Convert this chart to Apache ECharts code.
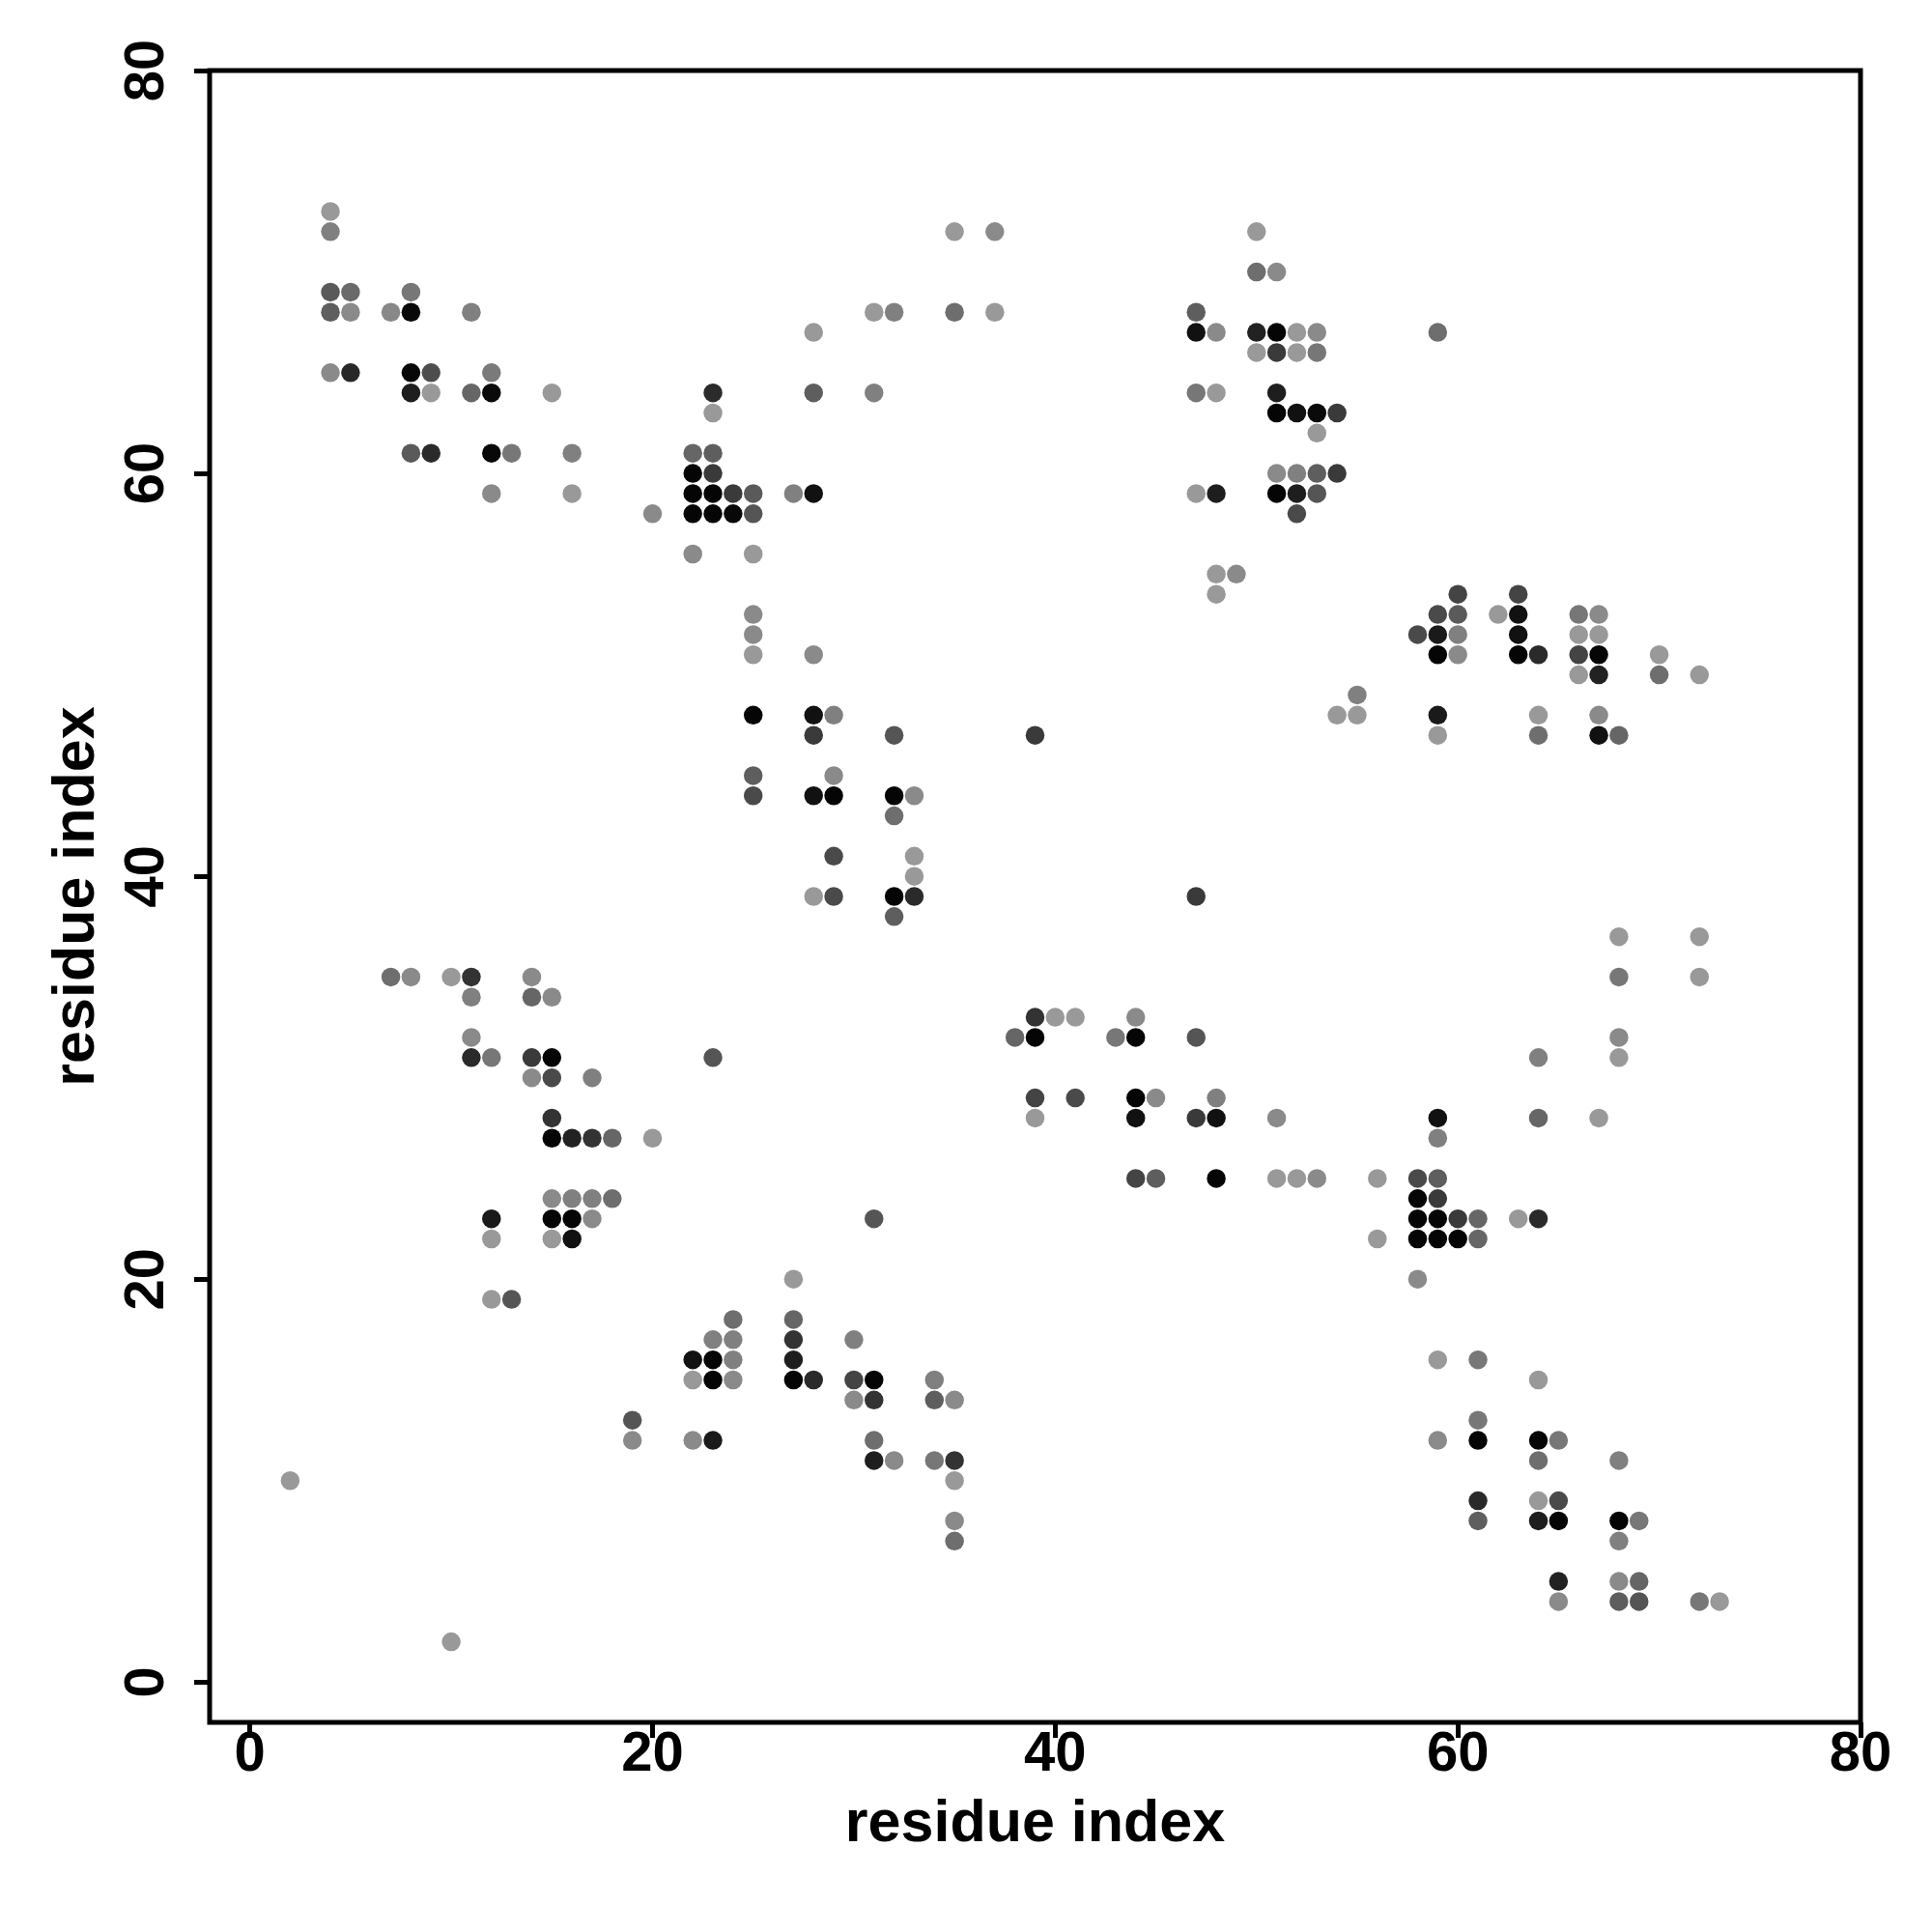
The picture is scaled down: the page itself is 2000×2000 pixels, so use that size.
<!DOCTYPE html>
<html>
<head>
<meta charset="utf-8">
<script src="https://cdn.jsdelivr.net/npm/echarts@6/dist/echarts.min.js"></script>
<style>
html,body{margin:0;padding:0;background:#fff;}
#chart{width:2000px;height:2000px;}
</style>
</head>
<body>
<div id="chart"></div>
<script>
// Each point: [residue i, residue j, grey level (0 = black ... 153 = light grey)]
const blockTopLeft = [
  [4,73,0x99],[4,72,0x80],[4,69,0x5a],[5,69,0x6a],[8,69,0x77],[4,68,0x5e],[5,68,0x8a],[7,68,0x88],[8,68,0x08],[11,68,0x80],
  [4,65,0x8a],[5,65,0x28],[8,65,0x08],[9,65,0x4d],[12,65,0x7a],
  [8,64,0x1e],[9,64,0x99],[11,64,0x66],[12,64,0x0a],[15,64,0x99],[23,64,0x2b],[23,63,0x99],
  [8,61,0x5a],[9,61,0x2a],[12,61,0x08],[13,61,0x77],[16,61,0x80],[22,61,0x66],[23,61,0x5e],
  [22,60,0x05],[23,60,0x3a],
  [12,59,0x8a],[16,59,0x99],[22,59,0x05],[23,59,0x05],[24,59,0x3a],[25,59,0x5a],
  [20,58,0x8a],[22,58,0x05],[23,58,0x05],[24,58,0x08],[25,58,0x55],
  [22,56,0x8a],[25,56,0x99]
];
const blockTopRight = [
  [35,72,0x99],[37,72,0x8a],[50,72,0x99],
  [50,70,0x6e],[51,70,0x8a],
  [31,68,0x99],[32,68,0x80],[35,68,0x6e],[37,68,0x99],[47,68,0x5e],
  [28,67,0x99],[47,67,0x11],[48,67,0x8a],[50,67,0x22],[51,67,0x05],[52,67,0x99],[53,67,0x8a],[59,67,0x6e],
  [50,66,0x99],[51,66,0x3a],[52,66,0x99],[53,66,0x77],
  [28,64,0x5e],[31,64,0x80],[47,64,0x77],[48,64,0x99],[51,64,0x1e],
  [51,63,0x05],[52,63,0x11],[53,63,0x0a],[54,63,0x3a],
  [53,62,0x99],
  [51,60,0x8a],[52,60,0x80],[53,60,0x5e],[54,60,0x3a],
  [27,59,0x80],[28,59,0x11],[47,59,0x99],[48,59,0x1e],[51,59,0x05],[52,59,0x1e],[53,59,0x55],
  [52,58,0x4a]
];
const blockMiddle = [
  [25,53,0x8a],[25,52,0x8a],[25,51,0x99],[25,48,0x05],[25,45,0x5e],[25,44,0x4a],
  [48,55,0x99],[49,55,0x8a],[48,54,0x99],
  [28,51,0x8a],
  [28,48,0x11],[29,48,0x80],
  [28,47,0x3a],[32,47,0x55],[39,47,0x3a],
  [29,45,0x8a],
  [28,44,0x11],[29,44,0x05],[32,44,0x05],[33,44,0x8a],
  [32,43,0x6e],
  [29,41,0x4a],[33,41,0x99],
  [33,40,0x99],
  [28,39,0x99],[29,39,0x4a],[32,39,0x05],[33,39,0x2a],[47,39,0x3a],
  [32,38,0x5e]
];
const blockRightUpper = [
  [60,54,0x44],[63,54,0x44],
  [59,53,0x4a],[60,53,0x5a],[62,53,0x99],[63,53,0x11],[66,53,0x77],[67,53,0x8a],
  [58,52,0x4a],[59,52,0x1a],[60,52,0x80],[63,52,0x11],[66,52,0x99],[67,52,0x99],
  [59,51,0x05],[60,51,0x8a],[63,51,0x05],[64,51,0x2a],[66,51,0x44],[67,51,0x05],[70,51,0x99],
  [66,50,0x99],[67,50,0x22],[70,50,0x6e],[72,50,0x99],
  [55,49,0x80],
  [54,48,0x99],[55,48,0x99],[59,48,0x1a],[64,48,0x99],[67,48,0x8a],
  [59,47,0x99],[64,47,0x6e],[67,47,0x11],[68,47,0x66]
];
const blockLeftLower = [
  [7,35,0x6e],[8,35,0x8a],[10,35,0x99],[11,35,0x33],[14,35,0x8a],
  [11,34,0x80],[14,34,0x66],[15,34,0x8a],
  [11,32,0x8a],
  [11,31,0x2a],[12,31,0x77],[14,31,0x3a],[15,31,0x05],[23,31,0x55],
  [14,30,0x8a],[15,30,0x4a],[17,30,0x80],
  [15,28,0x33],
  [15,27,0x05],[16,27,0x22],[17,27,0x33],[18,27,0x66],[20,27,0x99],
  [15,24,0x8a],[16,24,0x80],[17,24,0x80],[18,24,0x6e],
  [12,23,0x1a],[15,23,0x05],[16,23,0x05],[17,23,0x8a],
  [12,22,0x99],[15,22,0x99],[16,22,0x11],
  [12,19,0x99],[13,19,0x55]
];
const blockCenterLower = [
  [39,33,0x33],[40,33,0x99],[41,33,0x99],[44,33,0x8a],
  [38,32,0x66],[39,32,0x05],[43,32,0x77],[44,32,0x05],[47,32,0x55],
  [39,29,0x44],[41,29,0x4a],[44,29,0x05],[45,29,0x8a],[48,29,0x80],
  [39,28,0x99],[44,28,0x11],[47,28,0x3a],[48,28,0x11],[51,28,0x8a],
  [44,25,0x44],[45,25,0x5e],[48,25,0x05],[51,25,0x99],[52,25,0x99],[53,25,0x8a],
  [31,23,0x55],
  [27,20,0x99]
];
const blockRightLower = [
  [68,37,0x99],[72,37,0x99],
  [68,35,0x77],[72,35,0x99],
  [68,32,0x8a],
  [64,31,0x80],[68,31,0x99],
  [59,28,0x11],[64,28,0x66],[67,28,0x99],
  [59,27,0x80],
  [56,25,0x99],[58,25,0x4a],[59,25,0x5e],
  [58,24,0x05],[59,24,0x3a],
  [58,23,0x05],[59,23,0x05],[60,23,0x3a],[61,23,0x66],[63,23,0x99],[64,23,0x2a],
  [56,22,0x99],[58,22,0x05],[59,22,0x05],[60,22,0x05],[61,22,0x66],
  [58,20,0x8a]
];
const blockBottomLeft = [
  [24,18,0x6e],[23,17,0x80],[24,17,0x80],
  [22,16,0x11],[23,16,0x05],[24,16,0x80],
  [22,15,0x99],[23,15,0x05],[24,15,0x8a],
  [19,13,0x55],
  [19,12,0x8a],[22,12,0x8a],[23,12,0x1a],
  [2,10,0x99],
  [10,2,0x99],
  [27,18,0x66],[27,17,0x33],[30,17,0x80],[27,16,0x1e],
  [27,15,0x05],[28,15,0x2a],[30,15,0x44],[31,15,0x05],[34,15,0x80],
  [30,14,0x8a],[31,14,0x33],[34,14,0x5e],[35,14,0x8a],
  [31,12,0x6e],
  [31,11,0x1e],[32,11,0x8a],[34,11,0x77],[35,11,0x33],
  [35,10,0x99],[35,8,0x8a],[35,7,0x6e]
];
const blockBottomRight = [
  [59,16,0x99],[61,16,0x77],
  [64,15,0x99],
  [61,13,0x77],
  [59,12,0x8a],[61,12,0x05],[64,12,0x05],[65,12,0x77],
  [64,11,0x6e],[68,11,0x80],
  [61,9,0x2a],[64,9,0x99],[65,9,0x4a],
  [61,8,0x5e],[64,8,0x1e],[65,8,0x05],[68,8,0x05],[69,8,0x77],
  [68,7,0x80],
  [65,5,0x22],[68,5,0x8a],[69,5,0x66],
  [65,4,0x8a],[68,4,0x5e],[69,4,0x55],[72,4,0x77],[73,4,0x99]
];
const tickValues = [0, 20, 40, 60, 80];
const axisTitleX = 'residue index';
const axisTitleY = 'residue index';

const points = [].concat(blockTopLeft, blockTopRight, blockMiddle, blockRightUpper,
  blockLeftLower, blockCenterLower, blockRightLower, blockBottomLeft, blockBottomRight);

const FONT = '"Liberation Sans", Arial, Helvetica, sans-serif';
const chart = echarts.init(document.getElementById('chart'), null, {renderer: 'canvas'});
chart.setOption({
  animation: false,
  backgroundColor: '#ffffff',
  grid: {
    left: 217, top: 73, width: 1709, height: 1710,
    show: true, borderColor: '#000', borderWidth: 5, backgroundColor: 'transparent'
  },
  xAxis: {
    type: 'value', min: -2, max: 80,
    axisLine: {show: false, onZero: false},
    axisTick: {show: true, customValues: tickValues, length: 16, lineStyle: {color: '#000', width: 5}},
    axisLabel: {customValues: tickValues, color: '#000', fontSize: 58, fontWeight: 'bold', fontFamily: FONT, margin: 5},
    splitLine: {show: false},
    name: axisTitleX, nameLocation: 'middle', nameGap: 76,
    nameTextStyle: {color: '#000', fontSize: 61, fontWeight: 'bold', fontFamily: FONT}
  },
  yAxis: {
    type: 'value', min: -2, max: 80,
    axisLine: {show: false, onZero: false},
    axisTick: {show: true, customValues: tickValues, length: 16, lineStyle: {color: '#000', width: 5}},
    axisLabel: {customValues: tickValues, rotate: 90, color: '#000', fontSize: 58, fontWeight: 'bold', fontFamily: FONT, margin: 35},
    splitLine: {show: false},
    name: axisTitleY, nameLocation: 'middle', nameGap: 106, nameRotate: 90,
    nameTextStyle: {color: '#000', fontSize: 61, fontWeight: 'bold', fontFamily: FONT}
  },
  series: [{
    type: 'scatter',
    data: points,
    encode: {x: 0, y: 1},
    symbol: 'circle',
    symbolSize: 19.5,
    itemStyle: {
      opacity: 1,
      color: function (p) { const v = p.data[2]; return 'rgb(' + v + ',' + v + ',' + v + ')'; }
    }
  }]
});
</script>
</body>
</html>
